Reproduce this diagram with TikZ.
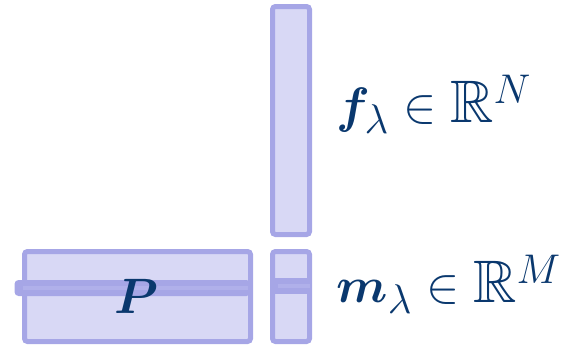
\documentclass[tikz,border=0pt]{standalone}
\usepackage{amsmath,amssymb,bm}
\usepackage{tikz}
\usetikzlibrary{positioning,calc}
\definecolor{vecedge}{HTML}{A6A6E6}
\definecolor{vecfill}{HTML}{D8D8F5}
\definecolor{vecband}{HTML}{B0B0EA}
\definecolor{labtext}{HTML}{0A386E}
\tikzset{
  vec/.style={draw=vecedge,fill=vecfill,line width=2.5pt,rounded corners=1.5pt,inner sep=0pt},
  band/.style={draw=vecedge,line width=8pt},
  bandcore/.style={draw=vecband,line width=2pt},
  veclabel/.style={text=labtext,inner sep=0pt,font=\fontsize{30}{35}\selectfont}
}
\begin{document}
\begin{tikzpicture}[x=0.5pt,y=-0.5pt]
  \useasboundingbox (0,0) rectangle (567,345);
  \node[vec,minimum width=18.5pt,minimum height=114pt] (fvec) at (291,120.5) {};
  \node[vec,minimum width=113pt,minimum height=45pt] (pmat) at (137.5,296.5) {};
  \node[vec,minimum width=18.5pt,minimum height=45pt] (mvec) at (291,296.5) {};
  % selected row of P and matching entry of m
  \coordinate (rowleft) at ($(pmat.west)+(-7.5,-8.5)$);
  \coordinate (rowright) at ($(pmat.east)+(-2.5,-8.5)$);
  \fill[vecedge,rounded corners=2pt] ($(rowleft)+(0,-8)$) rectangle ($(rowright)+(0,8)$);
  \draw[bandcore] ($(rowleft)+(8,0)$)--($(rowright)+(-3,0)$);
  \coordinate (entleft) at ($(mvec.west)+(0,-10.5)$);
  \coordinate (entright) at ($(mvec.east)+(0,-10.5)$);
  \draw[band] (entleft)--(entright);
  \draw[bandcore] ($(entleft)+(7.5,0)$)--($(entright)+(-2.5,0)$);
  \node[veclabel,anchor=base] (plab) at (136,313) {$\boldsymbol{P}$};
  \node[veclabel,anchor=base west] (flab) at (336,122) {$\boldsymbol{f}_\lambda \in \mathbb{R}^N$};
  \node[veclabel,anchor=base west] (mlab) at (336,302) {$\boldsymbol{m}_\lambda \in \mathbb{R}^M$};
\end{tikzpicture}
\end{document}
